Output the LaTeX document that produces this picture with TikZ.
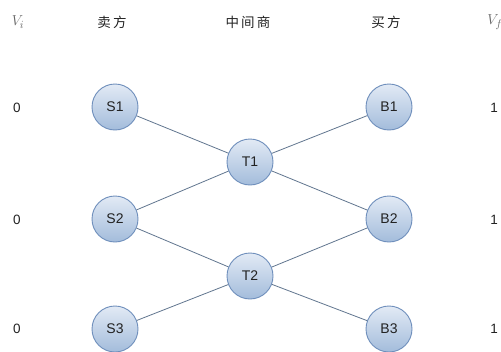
\documentclass[tikz,border=0pt]{standalone}
\usepackage{fontspec}
\setmainfont{Liberation Sans}
\newfontfamily\cjk{Noto Sans CJK SC}
\definecolor{nodeborder}{HTML}{6F8FBC}
\definecolor{nodetop}{HTML}{E2EAF5}
\definecolor{nodebot}{HTML}{A3BCDB}
\definecolor{edgecol}{HTML}{61768F}
\definecolor{textcol}{HTML}{222222}
\begin{document}
\begin{tikzpicture}[x=1pt,y=-1pt,
  agent/.style={circle,draw=nodeborder,line width=0.9pt,top color=nodetop,bottom color=nodebot,minimum size=46pt,inner sep=0pt,font=\fontsize{14}{16}\selectfont,text=textcol},
  hdr/.style={font=\cjk\fontsize{13.5}{15}\selectfont,text=textcol},
  val/.style={font=\fontsize{13.5}{15}\selectfont,text=textcol},
  vlab/.style={font=\fontsize{15}{17}\selectfont,text=black!60},
  edge/.style={draw=edgecol,line width=0.8pt}]
\useasboundingbox[clip] (0,0) rectangle (501,351);
\fill[white] (0,0) rectangle (501,351);
\node[vlab] (vi) at (18,22) {$V_i$};
\node[hdr] (h1) at (112,22) {卖\,方};
\node[hdr] (h2) at (248,22) {中\,间\,商};
\node[hdr] (h3) at (386,22) {买\,方};
\node[vlab] (vf) at (495,22) {$V_f$};
\node[val] (z1) at (17,108) {0};
\node[val] (z2) at (17,220) {0};
\node[val] (z3) at (17,329) {0};
\node[val] (o1) at (494,108) {1};
\node[val] (o2) at (494,220) {1};
\node[val] (o3) at (494,329) {1};
\node[agent] (S1) at (115,107) {S1};
\node[agent] (S2) at (115,219) {S2};
\node[agent] (S3) at (115,329) {S3};
\node[agent] (T1) at (250,162) {T1};
\node[agent] (T2) at (250,276) {T2};
\node[agent] (B1) at (389,107) {B1};
\node[agent] (B2) at (389,219) {B2};
\node[agent] (B3) at (389,329) {B3};
\draw[edge] (S1) -- (T1);
\draw[edge] (S2) -- (T1);
\draw[edge] (S2) -- (T2);
\draw[edge] (S3) -- (T2);
\draw[edge] (T1) -- (B1);
\draw[edge] (T1) -- (B2);
\draw[edge] (T2) -- (B2);
\draw[edge] (T2) -- (B3);
\end{tikzpicture}
\end{document}
